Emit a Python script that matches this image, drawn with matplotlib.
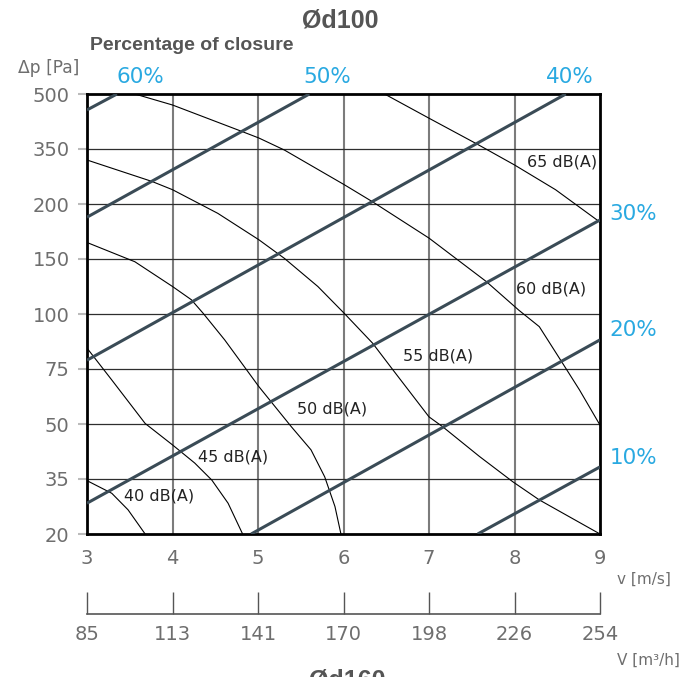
import matplotlib
matplotlib.use("Agg")
import matplotlib.pyplot as plt

plt.rcParams['font.family'] = ['DejaVu Sans']

# y axis is an index scale: evenly spaced pressure labels
dp_labels = ["20", "35", "50", "75", "100", "150", "200", "350", "500"]
v_ticks = [3, 4, 5, 6, 7, 8, 9]
flow_labels = ["85", "113", "141", "170", "198", "226", "254"]

# percentage of closure lines (v, index) - start and end points
closure_names = ["60%", "50%", "40%", "30%", "20%", "10%"]
closure_v = [[3.0, 3.35], [3.0, 5.6], [3.0, 8.6], [3.0, 9.0], [4.92, 9.0], [7.57, 9.0]]
closure_y = [[7.71, 8.0], [5.76, 8.0], [3.16, 8.0], [0.56, 5.71], [0.0, 3.53], [0.0, 1.22]]

# sound level curves
db_names = ["65 dB(A)", "60 dB(A)", "55 dB(A)", "50 dB(A)", "45 dB(A)", "40 dB(A)"]
db_v = [
    [6.48, 7.0, 7.55, 8.0, 8.48, 9.0],
    [3.56, 4.0, 4.81, 5.01, 5.31, 6.01, 6.34, 7.0, 7.67, 8.05, 8.29, 8.54, 8.76, 9.0],
    [3.0, 3.76, 4.0, 4.53, 5.01, 5.31, 5.7, 6.01, 6.34, 6.58, 7.0, 7.16, 7.59, 7.98, 8.29, 9.0],
    [3.0, 3.56, 4.0, 4.22, 4.36, 4.61, 5.01, 5.39, 5.62, 5.78, 5.9, 5.97],
    [3.0, 3.29, 3.68, 4.0, 4.26, 4.46, 4.65, 4.82],
    [3.0, 3.29, 3.48, 3.68],
]
db_y = [
    [8.0, 7.56, 7.1, 6.71, 6.26, 5.67],
    [8.0, 7.8, 7.32, 7.2, 6.98, 6.35, 6.04, 5.38, 4.59, 4.07, 3.77, 3.16, 2.62, 1.98],
    [6.8, 6.41, 6.26, 5.83, 5.35, 5.01, 4.5, 4.01, 3.47, 2.98, 2.13, 1.95, 1.41, 0.95, 0.62, 0.0],
    [5.3, 4.95, 4.5, 4.26, 4.01, 3.53, 2.68, 1.95, 1.53, 1.04, 0.5, 0.0],
    [3.38, 2.8, 2.01, 1.62, 1.29, 0.98, 0.56, 0.0],
    [0.97, 0.74, 0.44, 0.0],
]

grey = "#6e6e6e"
blue = "#29a9e1"
slate = "#3a4b56"
W, H = 681, 677

fig = plt.figure(figsize=(W/100, H/100), dpi=100)
ax = fig.add_axes([87/W, (H-534)/H, 513/W, 440/H])
ax.set_xlim(3, 9)
ax.set_ylim(0, 8)

for x in v_ticks[1:-1]:
    ax.axvline(x, color="#7c7c7c", lw=1.5, zorder=1)
for i in range(1, len(dp_labels) - 1):
    ax.axhline(i, color="#2e2e2e", lw=0.9, zorder=1)

for xs, ys in zip(closure_v, closure_y):
    ax.plot(xs, ys, color=slate, lw=2.2, zorder=3, solid_capstyle="butt")
for xs, ys in zip(db_v, db_y):
    ax.plot(xs, ys, color="black", lw=0.8, zorder=2)

ax.set_xticks(v_ticks)
ax.set_xticklabels([str(v) for v in v_ticks])
ax.set_yticks(range(len(dp_labels)))
ax.set_yticklabels(dp_labels)
ax.tick_params(axis="y", colors="#bbbbbb", labelcolor=grey, labelsize=14, length=6.5, width=1.5, pad=6)
ax.tick_params(axis="x", length=0, labelcolor=grey, labelsize=14, pad=11)
for s in ax.spines.values():
    s.set_linewidth(2)
    s.set_color("black")

# dB labels (left edge, centre y in pixels)
db_pos = [(527, 162), (516, 289), (403, 356), (297, 409), (198, 457), (124, 496)]
for name, (px, py) in zip(db_names, db_pos):
    fig.text(px/W, 1 - py/H, name, ha="left", va="center", fontsize=11.5, color="#222222")

# closure labels
label_pos = [(140, 77), (327, 77), (570, 77), (633, 214), (633, 330), (633, 458)]
for name, (px, py) in zip(closure_names, label_pos):
    fig.text(px/W, 1 - py/H, name, ha="center", va="center", fontsize=15.5, color=blue)

fig.text(340/W, 1 - 20/H, "Ød100", ha="center", va="center", fontsize=18,
         fontweight="bold", color="#555555", family="Liberation Sans")
fig.text(90/W, 1 - 45/H, "Percentage of closure", ha="left", va="center", fontsize=14,
         fontweight="bold", color="#555555", family="Liberation Sans")
fig.text(49/W, 1 - 68/H, "Δp [Pa]", ha="center", va="center", fontsize=12.3, color=grey)
fig.text(671/W, 1 - 579/H, "v [m/s]", ha="right", va="center", fontsize=11, color=grey)
fig.text(680/W, 1 - 660/H, "V [m³/h]", ha="right", va="center", fontsize=11, color=grey)
fig.text(347/W, 1 - 669/H, "Ød160", ha="center", va="top", fontsize=18,
         fontweight="bold", color="#555555", family="Liberation Sans")

# flow rate scale
ax2 = fig.add_axes([87/W, 1 - 614/H, 513/W, 0.02])
ax2.set_xlim(3, 9)
ax2.set_yticks([])
ax2.patch.set_alpha(0)
for s in ["top", "left", "right"]:
    ax2.spines[s].set_visible(False)
ax2.spines["bottom"].set_color("#555555")
ax2.spines["bottom"].set_linewidth(1.2)
ax2.set_xticks(v_ticks)
ax2.set_xticklabels(flow_labels)
ax2.tick_params(axis="x", direction="in", length=16, width=1, colors="#555555",
                labelcolor=grey, labelsize=14, pad=8)

fig.savefig("out.png", dpi=100)
